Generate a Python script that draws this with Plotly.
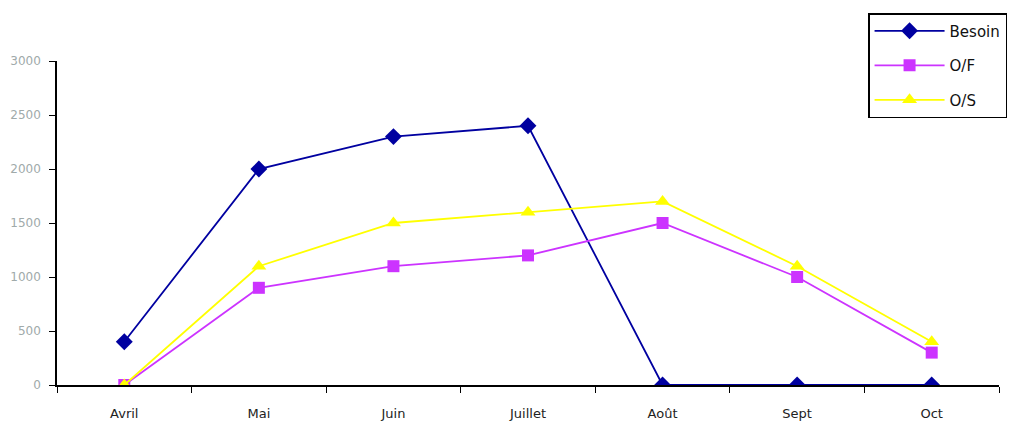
import plotly.graph_objects as go

months = ["Avril", "Mai", "Juin", "Juillet", "Août", "Sept", "Oct"]
besoin = [400, 2000, 2300, 2400, 0, 0, 0]
offre_f = [0, 900, 1100, 1200, 1500, 1000, 300]
offre_s = [0, 1100, 1500, 1600, 1700, 1100, 400]
y_ticks = [0, 500, 1000, 1500, 2000, 2500, 3000]

fig = go.Figure()
series = [
    ("Besoin", besoin, "#0000A0", "diamond", 13),
    ("O/F", offre_f, "#CC33FF", "square", 12),
    ("O/S", offre_s, "#FFFF00", "triangle-up", 13),
]
for name, vals, color, symbol, size in series:
    fig.add_trace(go.Scatter(
        x=months, y=vals, name=name, mode="lines+markers",
        line=dict(color=color, width=1.8),
        marker=dict(symbol=symbol, size=size, color=color),
        legendgroup=name,
    ))

fig.update_layout(
    width=1012, height=421,
    margin=dict(l=57, r=13, t=61, b=36, autoexpand=False),
    paper_bgcolor="white", plot_bgcolor="white",
    font=dict(family="DejaVu Sans, sans-serif", size=12, color="#333"),
    showlegend=True,
    legend=dict(
        x=0.861, y=1.148, xanchor="left", yanchor="top",
        bgcolor="white", bordercolor="black", borderwidth=1.5,
        font=dict(size=15, color="#111"),
        itemwidth=70, tracegroupgap=12,
    ),
)
fig.update_xaxes(
    type="category", range=[-0.5, 6.5], showgrid=False, showline=True,
    linecolor="black", linewidth=1.5, automargin=False,
    ticks="outside", ticklen=6, tickcolor="black", tickson="boundaries",
    ticklabelstandoff=16,
    tickfont=dict(size=13, color="#222"),
)
fig.update_yaxes(
    range=[0, 3000], tickvals=y_ticks, showgrid=False, zeroline=False,
    showline=True, linecolor="black", linewidth=1.5, automargin=False,
    ticks="outside", ticklen=6, tickcolor="black",
    ticklabelstandoff=6,
    tickfont=dict(size=12, color="#A0AAAA"),
)
fig.write_html("out.html")
